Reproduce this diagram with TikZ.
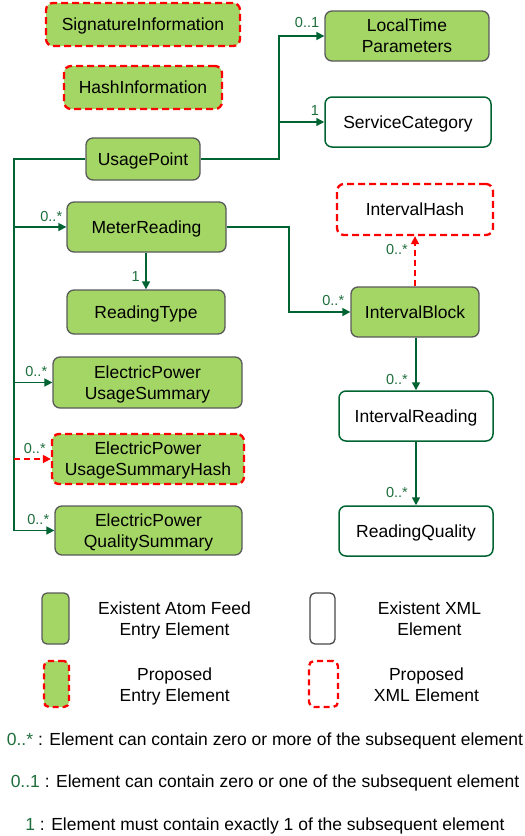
\documentclass[tikz,border=0pt]{standalone}
\usepackage{fontspec}
\setmainfont{Liberation Sans}
\usetikzlibrary{arrows.meta}
\definecolor{boxgreen}{RGB}{164,214,101}
\definecolor{linegreen}{RGB}{0,100,50}
\definecolor{lblgreen}{RGB}{30,110,60}
\definecolor{boxgray}{RGB}{90,90,90}
\definecolor{dashred}{RGB}{255,0,0}
\begin{document}
\begin{tikzpicture}[x=1pt,y=-1pt,
 every node/.style={font=\fontsize{17.5}{21}\selectfont, inner sep=0pt, align=center, text depth=0pt},
 ent/.style={draw=boxgray, line width=1.3pt, fill=boxgreen, rounded corners=7pt},
 xml/.style={draw=linegreen, line width=1.5pt, fill=white, rounded corners=7pt},
 legxml/.style={draw=boxgray!80!black, line width=1.3pt, fill=white, rounded corners=6pt},
 propent/.style={draw=dashred, dash pattern=on 7pt off 4pt, line width=2.3pt, fill=boxgreen, rounded corners=7pt},
 propxml/.style={draw=dashred, dash pattern=on 7pt off 4pt, line width=2.3pt, fill=white, rounded corners=7pt},
 conn/.style={draw=linegreen, line width=1.6pt},
 arr/.style={conn, -{Triangle[length=8pt,width=8pt]}},
 parr/.style={draw=dashred, line width=1.6pt, dash pattern=on 6pt off 4pt, -{Triangle[length=8pt,width=8pt]}},
 lbl/.style={font=\fontsize{14.5}{17}\selectfont, text=lblgreen, anchor=base east},
]
\useasboundingbox (0,0) rectangle (525,836);

% nodes
\node[propent, minimum width=194pt, minimum height=43pt] (sig) at (143,24.5) {SignatureInformation};
\node[propent, minimum width=158pt, minimum height=43pt] (hash) at (143,87.5) {HashInformation};
\node[ent, minimum width=114pt, minimum height=42pt] (up) at (143,159) {UsagePoint};
\node[ent, minimum width=159pt, minimum height=50pt] (mr) at (146.5,227) {MeterReading};
\node[ent, minimum width=158pt, minimum height=44pt] (rt) at (146,312) {ReadingType};
\node[ent, minimum width=189pt, minimum height=51pt] (euss) at (147.5,382.5) {ElectricPower\\UsageSummary};
\node[propent, minimum width=192pt, minimum height=50pt] (eussh) at (148,459) {ElectricPower\\UsageSummaryHash};
\node[ent, minimum width=187pt, minimum height=49pt] (eqs) at (148.5,530.5) {ElectricPower\\QualitySummary};
\node[ent, minimum width=164pt, minimum height=50pt] (ltp) at (407,36) {LocalTime\\Parameters};
\node[xml, minimum width=166pt, minimum height=50pt] (sc) at (408,122) {ServiceCategory};
\node[propxml, minimum width=156pt, minimum height=51pt] (ih) at (415,209.5) {IntervalHash};
\node[ent, minimum width=128pt, minimum height=50pt] (ib) at (415,312) {IntervalBlock};
\node[xml, minimum width=154pt, minimum height=50pt] (ir) at (416,416) {IntervalReading};
\node[xml, minimum width=154pt, minimum height=50pt] (rq) at (416,531) {ReadingQuality};

% connectors
\coordinate (trunk) at (14,159);
\coordinate (rtrunk) at (279,159);
\coordinate (mtrunk) at (289,227);
\draw[arr] (up.west) -- (trunk) |- (eqs.west);
\draw[arr] (trunk |- mr.west) -- (mr.west);
\draw[arr] (trunk |- euss.west) -- (euss.west);
\draw[parr] (trunk |- eussh.west) -- (eussh.west);
\draw[arr] (up.east) -- (rtrunk) |- (ltp.west);
\draw[arr] (rtrunk |- sc.west) -- (sc.west);
\draw[arr] (mr.east) -- (mtrunk) |- (ib.west);
\draw[arr] (mr.south -| rt.north) -- (rt.north);
\draw[parr] (ib.north) -- (ih.south);
\draw[arr] (ib.south -| ir.north) -- (ir.north);
\draw[arr] (ir.south) -- (rq.north);

% multiplicity labels
\node[lbl] (l1) at ([xshift=-4pt,yshift=6pt]mr.west) {0..*};
\node[lbl] (l2) at ([xshift=-5pt,yshift=6pt]euss.west) {0..*};
\node[lbl] (l3) at ([xshift=-5pt,yshift=6pt]eussh.west) {0..*};
\node[lbl] (l4) at ([xshift=-5pt,yshift=6pt]eqs.west) {0..*};
\node[lbl] (l5) at ([xshift=-5pt,yshift=9pt]ltp.west) {0..1};
\node[lbl] (l6) at ([xshift=-5pt,yshift=7pt]sc.west) {1};
\node[lbl] (l7) at ([xshift=-6pt,yshift=7pt]ib.west) {0..*};
\node[lbl] (l8) at ([xshift=-6pt,yshift=8pt]rt.north) {1};
\node[lbl] (l9) at ([xshift=-7pt,yshift=-18pt]ih.south) {0..*};
\node[lbl] (l10) at ([xshift=-8pt,yshift=6pt]ir.north) {0..*};
\node[lbl] (l11) at ([xshift=-8pt,yshift=8pt]rq.north) {0..*};

% legend
\node[ent, minimum width=27pt, minimum height=51pt, rounded corners=5pt] (lg1) at (55.5,618.5) {};
\node[legxml, minimum width=25pt, minimum height=51pt, rounded corners=5pt] (lg2) at (322.5,618.5) {};
\node[propent, minimum width=25pt, minimum height=46pt, rounded corners=5pt, dash pattern=on 6pt off 4pt] (lg3) at (56.5,684) {};
\node[propxml, minimum width=29pt, minimum height=46pt, rounded corners=5pt, dash pattern=on 6pt off 4pt] (lg4) at (323.5,684) {};
\node (t1) at (174.5,619) {Existent Atom Feed\\Entry Element};
\node (t2) at (429.5,619) {Existent XML\\Element};
\node (t3) at (174.7,684.5) {Proposed\\Entry Element};
\node (t4) at (426.5,684.5) {Proposed\\XML Element};

\node[anchor=base] (k1) at (265,745) {{\color{lblgreen}0..*} : Element can contain zero or more of the subsequent element};
\node[anchor=base] (k2) at (265,787) {{\color{lblgreen}0..1} : Element can contain zero or one of the subsequent element};
\node[anchor=base] (k3) at (265,830) {{\color{lblgreen}1} : Element must contain exactly 1 of the subsequent element};
\end{tikzpicture}
\end{document}
